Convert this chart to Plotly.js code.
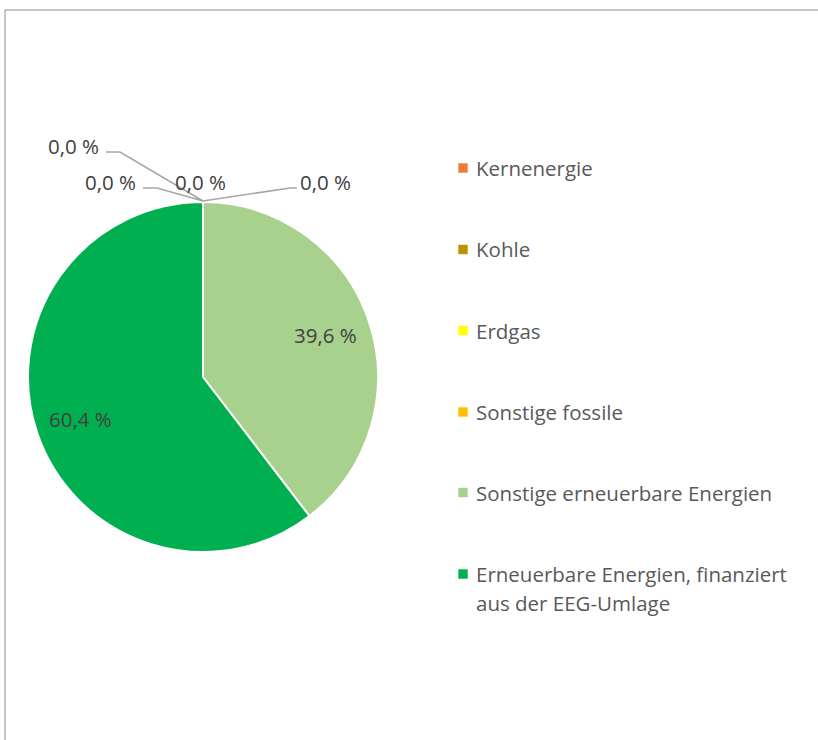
<!DOCTYPE html>
<html>
<head>
<meta charset="utf-8">
<script src="https://cdn.plot.ly/plotly-3.0.1.min.js"></script>
<style>html,body{margin:0;padding:0;background:#fff;}#chart{width:818px;height:740px;}</style>
</head>
<body>
<div id="chart"></div>
<script>
const categories = ["Kernenergie", "Kohle", "Erdgas", "Sonstige fossile", "Sonstige erneuerbare Energien", "Erneuerbare Energien, finanziert<br>aus der EEG-Umlage"];
const shares = [0.0, 0.0, 0.0, 0.0, 39.6, 60.4];
const colors = ["#ED7D31", "#BF9000", "#FFFF00", "#FFC000", "#A9D18E", "#00B050"];

const W = 818, H = 740;
const px = x => x / W;
const py = y => 1 - y / H;
const fmt = v => v.toFixed(1).replace('.', ',') + ' %';

const FONT = "Open Sans, Noto Sans, sans-serif";

// pie geometry (pixels)
const cx = 203, cy = 377, r = 175;

const trace = {
  type: 'pie',
  labels: categories,
  values: shares,
  marker: { colors: colors, line: { color: '#ffffff', width: 2 } },
  sort: false,
  direction: 'clockwise',
  rotation: 0,
  text: shares.map(fmt),
  textinfo: 'none',
  domain: { x: [px(cx - r), px(cx + r)], y: [py(cy + r), py(cy - r)] },
  showlegend: false,
  hoverinfo: 'label+text'
};

const annotations = [];
const shapes = [];

// frame
shapes.push({ type: 'line', xref: 'paper', yref: 'paper', x0: px(5), y0: py(10), x1: px(818), y1: py(10), line: { color: '#8c8c8c', width: 1 } });
shapes.push({ type: 'line', xref: 'paper', yref: 'paper', x0: px(5), y0: py(10), x1: px(5), y1: py(740), line: { color: '#8c8c8c', width: 1 } });

// inside labels for non-zero slices, placed at the slice mid-angle (Excel style)
const total = shares.reduce((a, b) => a + b, 0);
let cum = 0;
shares.forEach((v, i) => {
  const mid = (cum + v / 2) / total * 2 * Math.PI;
  cum += v;
  if (v <= 0) return;
  const rr = 0.74 * r;
  const x = cx + rr * Math.sin(mid);
  const y = cy - rr * Math.cos(mid);
  annotations.push({ xref: 'paper', yref: 'paper', x: px(x), y: py(y), text: fmt(v), showarrow: false,
    xanchor: 'center', yanchor: 'middle', font: { family: FONT, size: 20.5, color: '#404040' } });
});

// outside labels for zero-value slices (Excel leader lines)
const zeroLabelPos = [
  { tx: 73, ty: 146, path: [[106, 152], [120, 152], [203, 201]] },
  { tx: 110, ty: 182, path: [[143, 188], [157, 188], [203, 201]] },
  { tx: 200, ty: 182, path: null },
  { tx: 325, ty: 182, path: [[203, 201], [290, 188], [297, 188]] }
];
zeroLabelPos.forEach((p, i) => {
  annotations.push({ xref: 'paper', yref: 'paper', x: px(p.tx), y: py(p.ty), text: fmt(shares[i]), showarrow: false,
    xanchor: 'center', yanchor: 'middle', font: { family: FONT, size: 20.5, color: '#404040' } });
  if (p.path) {
    const d = p.path.map((q, k) => (k ? 'L' : 'M') + px(q[0]) + ',' + py(q[1])).join(' ');
    shapes.push({ type: 'path', xref: 'paper', yref: 'paper', path: d, line: { color: '#a6a6a6', width: 1.5 } });
  }
});

// legend (manual, to reproduce Excel spacing)
const legendY = [168, 249.5, 330.5, 412, 492.5, 574];
const lineGap = 29;
categories.forEach((c, i) => {
  const y = legendY[i];
  shapes.push({ type: 'rect', xref: 'paper', yref: 'paper', x0: px(458.3), x1: px(467.7), y0: py(y + 4.7), y1: py(y - 4.7),
    fillcolor: colors[i], line: { width: 0 } });
  c.split('<br>').forEach((line, k) => {
    annotations.push({ xref: 'paper', yref: 'paper', x: px(474), y: py(y + k * lineGap), text: line, showarrow: false,
      xanchor: 'left', yanchor: 'middle', align: 'left', font: { family: FONT, size: 20.5, color: '#595959' } });
  });
});

const layout = {
  width: W, height: H,
  margin: { l: 0, r: 0, t: 0, b: 0 },
  paper_bgcolor: '#ffffff',
  showlegend: false,
  annotations: annotations,
  shapes: shapes
};

Plotly.newPlot('chart', [trace], layout, { displayModeBar: false, staticPlot: true });
</script>
</body>
</html>
